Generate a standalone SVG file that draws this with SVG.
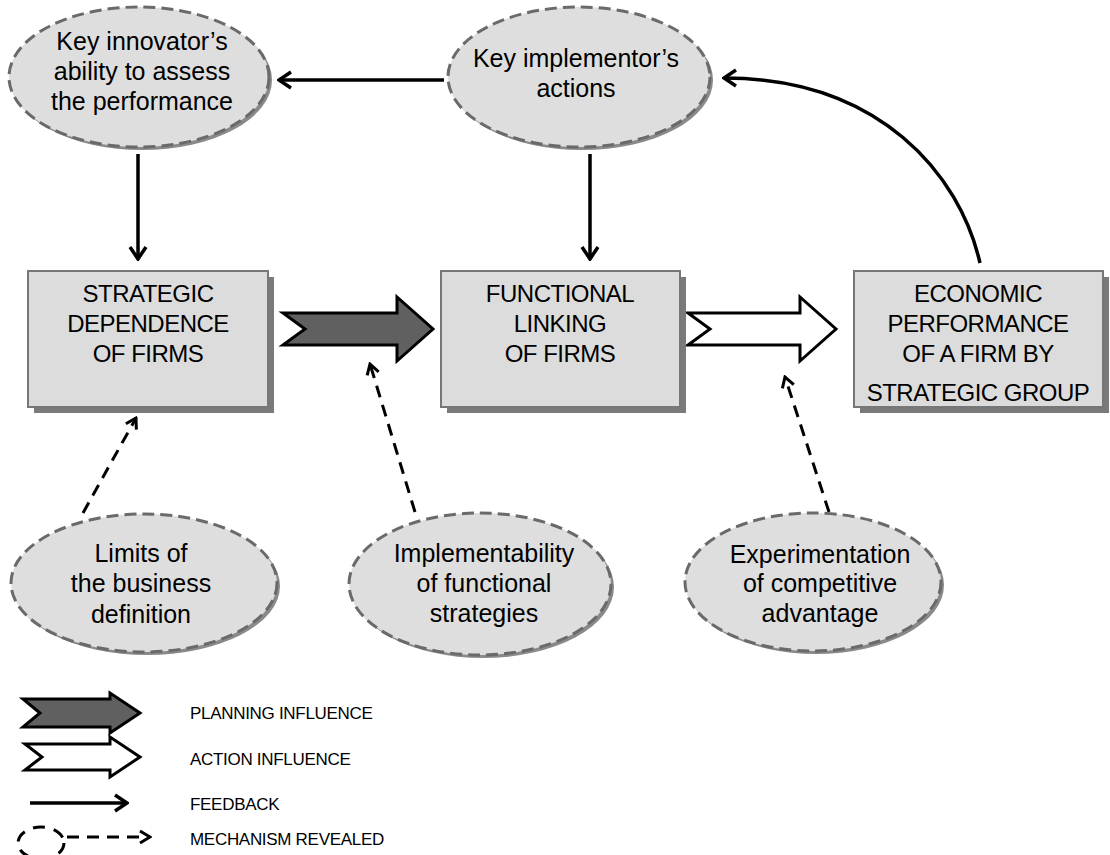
<svg xmlns="http://www.w3.org/2000/svg" width="1110" height="855" viewBox="0 0 1110 855">
<defs>
<style>
.bx{fill:#dcdcdc;stroke:#777;stroke-width:2}
.bs{fill:#7a7a7a}
.el{fill:#dedede;stroke:#6a6a6a;stroke-width:3;stroke-dasharray:12 6}
.es{fill:#8a8a8a}
.bt{font-family:"Liberation Sans",Arial,sans-serif;font-size:24px;fill:#000;text-anchor:middle;letter-spacing:-0.5px}
.et{font-family:"Liberation Sans",Arial,sans-serif;font-size:25px;fill:#000;text-anchor:middle}
.lt{font-family:"Liberation Sans",Arial,sans-serif;font-size:17px;fill:#000;letter-spacing:-0.3px}
.fb{fill:none;stroke:#000;stroke-width:3.5}
.dl{fill:none;stroke:#000;stroke-width:3;stroke-dasharray:12 8}
</style>
<marker id="ah" viewBox="0 0 16 20" refX="14" refY="10" markerWidth="16" markerHeight="20" markerUnits="userSpaceOnUse" orient="auto">
<path d="M2,2 L14,10 L2,18" fill="none" stroke="#000" stroke-width="3.5"/>
</marker>
<marker id="ahd" viewBox="0 0 14 16" refX="12" refY="8" markerWidth="14" markerHeight="16" markerUnits="userSpaceOnUse" orient="auto">
<path d="M2,2 L12,8 L2,14" fill="none" stroke="#000" stroke-width="3"/>
</marker>
</defs>
<rect width="1110" height="855" fill="#fff"/>

<g id="connectors">
<line class="fb" x1="444" y1="80" x2="279" y2="80" marker-end="url(#ah)"/>
<line class="fb" x1="138" y1="154" x2="138" y2="259" marker-end="url(#ah)"/>
<line class="fb" x1="590" y1="154" x2="590" y2="259" marker-end="url(#ah)"/>
<path class="fb" d="M980,263 C960,175 880,78 724,78" marker-end="url(#ah)"/>
<line class="dl" x1="83" y1="513" x2="136" y2="418" marker-end="url(#ahd)"/>
<line class="dl" x1="415" y1="512" x2="370" y2="364" marker-end="url(#ahd)"/>
<line class="dl" x1="829" y1="512" x2="785" y2="377" marker-end="url(#ahd)"/>
<polygon id="planning-arrow" points="283,313 397,313 397,297 433,329 397,361 397,345 283,345 305,329" fill="#606060" stroke="#000" stroke-width="3" stroke-linejoin="miter"/>
<polygon id="action-arrow" points="688,313 800,313 800,297 836,329 800,361 800,345 688,345 710,329" fill="#fff" stroke="#000" stroke-width="3" stroke-linejoin="miter"/>
</g>

<g id="n-innovator">
<ellipse class="es" cx="142" cy="80" rx="130" ry="70"/>
<ellipse class="el" cx="139" cy="77" rx="130" ry="70"/>
<text class="et" x="142" y="50">Key innovator’s</text>
<text class="et" x="142" y="80">ability to assess</text>
<text class="et" x="142" y="110">the performance</text>
</g>

<g id="n-implementor">
<ellipse class="es" cx="582" cy="80" rx="131" ry="70"/>
<ellipse class="el" cx="579" cy="77" rx="131" ry="70"/>
<text class="et" x="576" y="67">Key implementor’s</text>
<text class="et" x="576" y="97">actions</text>
</g>

<g id="n-strategic">
<rect class="bs" x="34" y="277" width="240" height="136"/>
<rect class="bx" x="28" y="271" width="240" height="136"/>
<text class="bt" x="148" y="302">STRATEGIC</text>
<text class="bt" x="148" y="332">DEPENDENCE</text>
<text class="bt" x="148" y="362">OF FIRMS</text>
</g>

<g id="n-functional">
<rect class="bs" x="447" y="277" width="239" height="136"/>
<rect class="bx" x="441" y="271" width="239" height="136"/>
<text class="bt" x="560" y="302">FUNCTIONAL</text>
<text class="bt" x="560" y="332">LINKING</text>
<text class="bt" x="560" y="362">OF FIRMS</text>
</g>

<g id="n-economic">
<rect class="bs" x="860" y="277" width="249" height="136"/>
<rect class="bx" x="854" y="271" width="249" height="136"/>
<text class="bt" x="978" y="302">ECONOMIC</text>
<text class="bt" x="978" y="332">PERFORMANCE</text>
<text class="bt" x="978" y="362">OF A FIRM BY</text>
<text class="bt" x="978" y="401">STRATEGIC GROUP</text>
</g>

<g id="n-limits">
<ellipse class="es" cx="147" cy="586" rx="133" ry="69"/>
<ellipse class="el" cx="144" cy="583" rx="133" ry="69"/>
<text class="et" x="141" y="562">Limits of</text>
<text class="et" x="141" y="592">the business</text>
<text class="et" x="141" y="623">definition</text>
</g>

<g id="n-implementability">
<ellipse class="es" cx="483" cy="587" rx="131" ry="71"/>
<ellipse class="el" cx="480" cy="584" rx="131" ry="71"/>
<text class="et" x="484" y="562">Implementability</text>
<text class="et" x="484" y="592">of functional</text>
<text class="et" x="484" y="622">strategies</text>
</g>

<g id="n-experimentation">
<ellipse class="es" cx="816" cy="585" rx="128" ry="69"/>
<ellipse class="el" cx="813" cy="582" rx="128" ry="69"/>
<text class="et" x="820" y="563">Experimentation</text>
<text class="et" x="820" y="592">of competitive</text>
<text class="et" x="820" y="622">advantage</text>
</g>

<g id="legend">
<polygon points="23,699 110,699 110,693 140,713 110,733 110,727 23,727 40,713" fill="#606060" stroke="#000" stroke-width="3"/>
<text class="lt" x="190" y="719">PLANNING INFLUENCE</text>
<polygon points="25,744 110,744 110,737 140,757 110,777 110,770 25,770 42,757" fill="#fff" stroke="#000" stroke-width="3"/>
<text class="lt" x="190" y="765">ACTION INFLUENCE</text>
<line class="fb" x1="30" y1="803" x2="127" y2="803" marker-end="url(#ah)"/>
<text class="lt" x="190" y="810">FEEDBACK</text>
<ellipse cx="41" cy="843" rx="23" ry="16" fill="none" stroke="#000" stroke-width="3" stroke-dasharray="12 9"/>
<line class="dl" x1="67" y1="837" x2="150" y2="837" marker-end="url(#ahd)"/>
<text class="lt" x="190" y="845">MECHANISM REVEALED</text>
</g>
</svg>
